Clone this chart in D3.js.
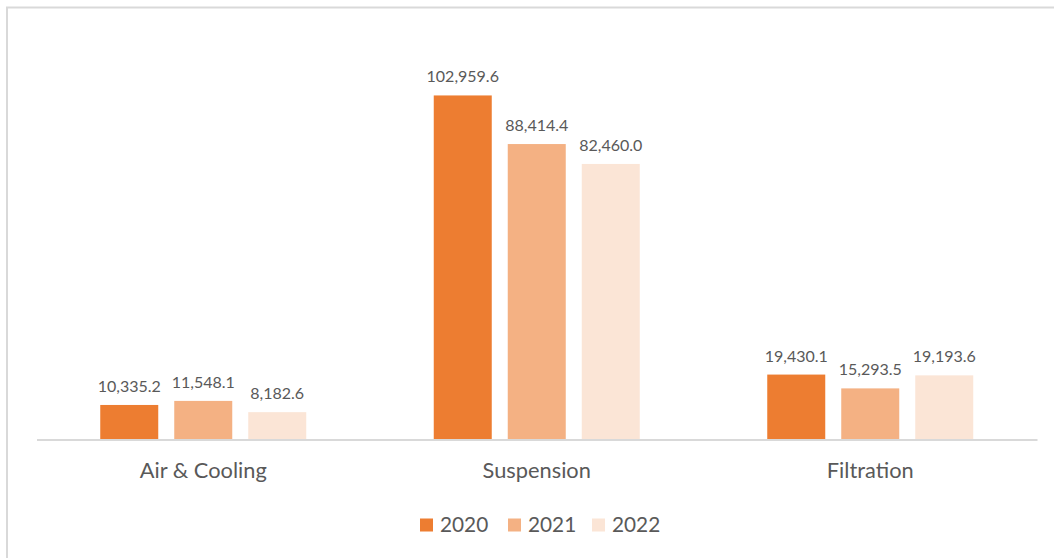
<!DOCTYPE html>
<html>
<head>
<meta charset="utf-8">
<script src="https://cdn.jsdelivr.net/npm/d3@7"></script>
<style>
  html, body { margin: 0; padding: 0; background: #fff; }
  svg { display: block; }
  text { font-family: Lato, "Open Sans", sans-serif; fill: #595959; }
</style>
</head>
<body>
<script>
const categories = ["Air & Cooling", "Suspension", "Filtration"];
const years = ["2020", "2021", "2022"];
const values2020 = [10335.2, 102959.6, 19430.1];
const values2021 = [11548.1, 88414.4, 15293.5];
const values2022 = [8182.6, 82460.0, 19193.6];
const colors = ["#ED7D31", "#F4B183", "#FBE5D6"];

const W = 1054, H = 558;
const series = [values2020, values2021, values2022];

const svg = d3.select("body").append("svg").attr("width", W).attr("height", H);

// chart border
svg.append("rect")
  .attr("x", 7).attr("y", 7.5)
  .attr("width", W + 20).attr("height", H + 20)
  .attr("fill", "none").attr("stroke", "#d9d9d9").attr("stroke-width", 2);

const x0 = d3.scaleBand().domain(categories).range([36.5, 1037]).padding(0);
const groupW = 206;
const x1 = d3.scaleBand().domain(years)
  .range([x0.bandwidth() / 2 - groupW / 2, x0.bandwidth() / 2 + groupW / 2])
  .paddingInner(16 / 74).paddingOuter(0);
const y = d3.scaleLinear().domain([0, 120000]).range([439.5, 38.5]);

const groups = svg.selectAll("g.cat").data(categories).enter().append("g")
  .attr("class", "cat")
  .attr("transform", d => `translate(${x0(d)},0)`);

const fmt = d3.format(",.1f");

groups.each(function(cat, ci) {
  const g = d3.select(this);
  years.forEach((yr, si) => {
    const v = series[si][ci];
    g.append("rect")
      .attr("x", x1(yr)).attr("width", x1.bandwidth())
      .attr("y", y(v)).attr("height", y(0) - y(v))
      .attr("fill", colors[si]);
    g.append("text")
      .attr("x", x1(yr) + x1.bandwidth() / 2)
      .attr("y", y(v) - 13)
      .attr("text-anchor", "middle")
      .attr("font-size", 16)
      .text(fmt(v));
  });
});

// x axis
const xAxis = svg.append("g").attr("transform", `translate(0,${y(0)})`)
  .call(d3.axisBottom(x0).tickSize(0).tickPadding(0));
xAxis.select(".domain").attr("stroke", "#d9d9d9").attr("stroke-width", 2);
xAxis.selectAll(".tick text")
  .attr("dy", 0).attr("y", 38.5)
  .attr("font-size", 21.8)
  .style("font-family", "Lato, 'Open Sans', sans-serif")
  .attr("fill", "#595959");

// legend
const legendX = [420, 508, 592];
const legend = svg.append("g");
years.forEach((yr, i) => {
  legend.append("rect")
    .attr("x", legendX[i]).attr("y", 518.5)
    .attr("width", 13).attr("height", 13)
    .attr("fill", colors[i]);
  legend.append("text")
    .attr("x", legendX[i] + 20).attr("y", 532)
    .attr("font-size", 20.8)
    .text(yr);
});
</script>
</body>
</html>
